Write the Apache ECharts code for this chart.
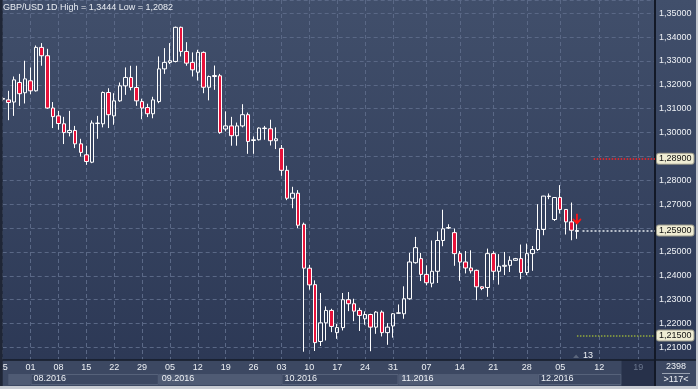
<!DOCTYPE html>
<html><head><meta charset="utf-8">
<script src="https://cdn.jsdelivr.net/npm/echarts@6/dist/echarts.min.js"></script>
<style>html,body{margin:0;padding:0;background:#2f3c58;}#c{width:698px;height:389px;}</style>
</head><body><div id="c"></div>
<script>
// ---- data (GBP/USD daily, slot 0 = 25 Jul 2016) ----
const opens  = [1.3140,1.3137,1.3128,1.3210,1.3167,1.3217,1.3175,1.3357,1.3322,1.3103,1.3070,1.3037,1.3000,1.3009,1.2953,1.2907,1.2876,1.3038,1.3037,1.3168,1.3070,1.3133,1.3196,1.3231,1.3189,1.3130,1.3105,1.3079,1.3130,1.3267,1.3294,1.3298,1.3441,1.3340,1.3294,1.3253,1.3336,1.3190,1.3235,1.3238,1.3015,1.3028,1.2987,1.3028,1.3075,1.2967,1.2970,1.3017,1.3016,1.2966,1.2934,1.2842,1.2725,1.2746,1.2616,1.2432,1.2363,1.2125,1.2203,1.2255,1.2162,1.2183,1.2300,1.2283,1.2255,1.2220,1.2238,1.2185,1.2248,1.2162,1.2190,1.2243,1.2241,1.2304,1.2455,1.2472,1.2406,1.2369,1.2419,1.2548,1.2600,1.2581,1.2493,1.2458,1.2433,1.2423,1.2354,1.2351,1.2493,1.2419,1.2440,1.2444,1.2465,1.2472,1.2414,1.2493,1.2510,1.2594,1.2732,1.2636,1.2728,1.2678,1.2626,1.2586];
const closes = [1.3143,1.3126,1.3221,1.3163,1.3225,1.3175,1.3357,1.3322,1.3103,1.3067,1.3038,1.3000,1.3009,1.2953,1.2917,1.2879,1.3040,1.3040,1.3168,1.3075,1.3133,1.3196,1.3231,1.3189,1.3133,1.3103,1.3079,1.3137,1.3267,1.3294,1.3301,1.3441,1.3340,1.3291,1.3263,1.3336,1.3190,1.3235,1.3239,1.3000,1.3028,1.2987,1.3028,1.3075,1.2963,1.2970,1.3019,1.3019,1.2966,1.2974,1.2842,1.2725,1.2746,1.2612,1.2432,1.2362,1.2120,1.2203,1.2255,1.2188,1.2183,1.2300,1.2283,1.2252,1.2234,1.2238,1.2185,1.2248,1.2162,1.2185,1.2241,1.2245,1.2304,1.2458,1.2518,1.2406,1.2371,1.2419,1.2548,1.2597,1.2602,1.2493,1.2458,1.2433,1.2421,1.2354,1.2347,1.2493,1.2419,1.2440,1.2444,1.2465,1.2472,1.2414,1.2493,1.2510,1.2594,1.2734,1.2734,1.2728,1.2678,1.2626,1.2591,1.2590];
const lows   = [1.3132,1.3052,1.3070,1.3112,1.3122,1.3161,1.3172,1.3280,1.3100,1.3019,1.3012,1.2952,1.2984,1.2935,1.2900,1.2865,1.2872,1.2974,1.3022,1.3019,1.3033,1.3129,1.3158,1.3177,1.3112,1.3056,1.3065,1.3060,1.3123,1.3246,1.3287,1.3294,1.3319,1.3280,1.3235,1.3218,1.3165,1.3135,1.3179,1.2995,1.3005,1.2945,1.2945,1.3022,1.2911,1.2911,1.2967,1.2970,1.2946,1.2931,1.2819,1.2717,1.2683,1.2600,1.2082,1.2342,1.2085,1.2106,1.2129,1.2164,1.2136,1.2171,1.2252,1.2210,1.2169,1.2195,1.2084,1.2157,1.2146,1.2111,1.2141,1.2241,1.2220,1.2300,1.2451,1.2378,1.2360,1.2352,1.2370,1.2524,1.2596,1.2442,1.2379,1.2410,1.2410,1.2298,1.2340,1.2312,1.2382,1.2363,1.2403,1.2416,1.2463,1.2386,1.2403,1.2421,1.2504,1.2570,1.2721,1.2630,1.2661,1.2573,1.2549,1.2555];
const highs  = [1.3150,1.3175,1.3235,1.3246,1.3301,1.3273,1.3365,1.3375,1.3351,1.3128,1.3091,1.3066,1.3091,1.3028,1.2974,1.2945,1.3051,1.3070,1.3172,1.3186,1.3165,1.3210,1.3273,1.3280,1.3280,1.3142,1.3121,1.3150,1.3319,1.3354,1.3375,1.3444,1.3444,1.3379,1.3336,1.3347,1.3340,1.3239,1.3281,1.3246,1.3089,1.3066,1.3042,1.3119,1.3084,1.2984,1.3022,1.3028,1.3054,1.3022,1.2948,1.2861,1.2773,1.2759,1.2623,1.2446,1.2381,1.2328,1.2272,1.2262,1.2199,1.2328,1.2332,1.2304,1.2266,1.2251,1.2241,1.2252,1.2255,1.2202,1.2244,1.2280,1.2356,1.2496,1.2563,1.2496,1.2444,1.2548,1.2586,1.2677,1.2616,1.2598,1.2504,1.2504,1.2507,1.2426,1.2356,1.2514,1.2503,1.2491,1.2500,1.2482,1.2475,1.2531,1.2535,1.2525,1.2700,1.2735,1.2745,1.2730,1.2780,1.2679,1.2707,1.2618];
const totalSlots = 118;                 // 117 visible bars + partial first
const tickSlots  = [0,5,10,15,20,25,30,35,40,45,50,55,60,65,70,76,82,88,94,100,107,114];
const tickLabels = ['25','01','08','15','22','29','05','12','19','26','03','10','17','24','31','07','14','21','28','05','12','19'];
const monthBounds = [1,5,28,50,71,96,111];
const monthLabels = ['','08.2016','09.2016','10.2016','11.2016','12.2016'];
const futureStart = 111;
const levelValues = [1.2890, 1.2590, 1.2150];
const levelStart  = [106, 104, 103];
const levelLabels = ['1,28900','1,25900','1,21500'];
const hiddenYTicks = [120,126,129];
const yMin = 1.20, yMax = 1.35555, yStep = 0.01;
const signalSlot = 103, signalPrice = 1.2637;
const titleText = 'GBP/USD 1D High = 1,3444 Low = 1,2082';
const barsInfo = ['2398','>117<'];
const timerText = '13';

// ---- build ----
const FONT = 'Liberation Sans';
const slots = Array.from({length: totalSlots}, (_, i) => String(i));
const candles = opens.map((o, i) => [o, closes[i], lows[i], highs[i]]);
const tickMap = {}; tickSlots.forEach((s, i) => tickMap[s] = tickLabels[i]);
const firstTick = tickSlots[0];
const monthMap = {}; monthBounds.slice(0, monthLabels.length).forEach((s, i) => { if (monthLabels[i]) monthMap[s] = monthLabels[i]; });
const levelColors = ['#ff2020', '#b9c0cc', '#93aa3c'];
const levelWidths = [1.5, 2, 1.5];

const chart = echarts.init(document.getElementById('c'));
const gridTop = 0, gridBottom = 17.7, axisOffset = -11.3;

const yFmt = (v) => {
  const k = Math.round(v * 100);
  if (Math.abs(v * 100 - k) > 1e-6 || hiddenYTicks.includes(k)) return '';
  return v.toFixed(5).replace('.', ',');
};

const option = {
  animation: false,
  backgroundColor: {type:'linear', x:0, y:0, x2:0, y2:1, colorStops:[{offset:0,color:'#414f6b'},{offset:1,color:'#2b3754'}]},
  title: {text: titleText, left: 3, top: 3, padding: 0, textStyle: {color:'#e9edf3', fontSize: 9, fontWeight:'normal', fontFamily: FONT}},
  grid: {left: 2.7, right: 43, top: gridTop, bottom: gridBottom},
  xAxis: [
    {type:'category', data: slots, boundaryGap:false, position:'bottom',
     axisLine:{show:false}, axisTick:{show:false}, axisLabel:{show:false},
     splitLine:{show:true, interval:(i)=> tickMap[i] !== undefined, lineStyle:{color:'#5a6886', type:[4,3], width:1}}},
    {type:'category', data: slots, boundaryGap:false, position:'bottom', offset: axisOffset, z: 10,
     axisLine:{show:false}, axisTick:{show:false}, splitLine:{show:false},
     axisLabel:{show:true, interval:(i)=> i !== firstTick && tickMap[i] !== undefined, formatter:(v, i)=> tickMap[i] || '',
       margin: 3, fontSize: 9, fontFamily: FONT, color:(v)=> (+v >= futureStart ? '#6b778e' : '#eef1f5')}},
    {type:'category', data: slots, boundaryGap:false, position:'bottom', offset: axisOffset, z: 10,
     axisLine:{show:false}, axisTick:{show:false}, splitLine:{show:false},
     axisLabel:{show:true, interval:(i)=> monthMap[i] !== undefined, formatter:(v, i)=> monthMap[i] || '',
       margin: 14, align:'left', padding:[0,0,0,3], fontSize: 9, fontFamily: FONT, color:'#eef1f5'}}
  ],
  yAxis: {type:'value', position:'right', min:yMin, max:yMax, interval:yStep,
    axisLine:{show:true, lineStyle:{color:'#131927', width:2}}, axisTick:{show:false},
    axisLabel:{margin:4, fontSize:9, fontFamily: FONT, color:'#eef1f5', formatter: yFmt},
    splitLine:{show:true, lineStyle:{color:'#5a6886', type:[4,3], width:1}}},
  series: [{
    type:'candlestick', xAxisIndex:0, yAxisIndex:0, data: candles, barWidth: 4, clip: true,
    itemStyle:{color:'rgba(0,0,0,0)', color0:'#e8123a', borderColor:'#ffffff', borderColor0:'#ffffff', borderWidth:1},
    markLine:{silent:true, symbol:['none','none'], animation:false,
      data: levelValues.map((v, k) => [
        {xAxis: levelStart[k], yAxis: v, lineStyle:{color: levelColors[k], type:'dotted', width: levelWidths[k]},
         label:{show:true, position:'end', distance:2, formatter: levelLabels[k], color:'#111', fontSize:9, fontFamily: FONT,
                backgroundColor:'#efecd3', borderColor:'#9a998a', borderWidth:1, padding:[1,2,0,2], borderRadius:2}},
        {xAxis: totalSlots - 1, yAxis: v}
      ])},
    markPoint:{silent:true, animation:false,
      data:[{coord:[signalSlot, signalPrice], symbol:'path://M4,0 L6,0 L6,7 L9,4.5 L10,6 L5,11 L0,6 L1,4.5 L4,7 Z',
             symbolSize:[9,11], itemStyle:{color:'#ff1414'}, label:{show:false}}]}
  }]
};
chart.setOption(option);

// ---- strip / frame decorations positioned from the axis scale ----
const px = (s) => chart.convertToPixel({xAxisIndex:0}, s);
const W = 698, H = 389, stripTop = 360, monthTop = 374, stripBottom = 386, axisX = 655;
const g = [];
g.push({type:'rect', z:5, shape:{x:0, y:stripTop, width:W, height:H-stripTop}, style:{fill:'#3c4862'}});
for (let i = 0; i < monthBounds.length - 1; i++) {
  const x0 = px(monthBounds[i]), x1 = px(monthBounds[i+1]);
  if (i % 2 === 0) g.push({type:'rect', z:6, shape:{x:x0, y:monthTop, width:x1-x0, height:stripBottom-monthTop-1}, style:{fill:'#4f5b74'}});
  else g.push({type:'rect', z:6, shape:{x:x0+0.5, y:monthTop+0.5, width:x1-x0-1, height:stripBottom-monthTop-2}, style:{fill:'none', stroke:'#56627a', lineWidth:1}});
}
const fx = px(futureStart);
g.push({type:'rect', z:6, shape:{x:fx, y:stripTop, width:axisX-fx, height:stripBottom-stripTop}, style:{fill:'#27314a'}});
g.push({type:'line', z:7, shape:{x1:0, y1:stripTop, x2:W, y2:stripTop}, style:{stroke:'#151b29', lineWidth:1.5}});
g.push({type:'line', z:7, shape:{x1:axisX, y1:stripTop, x2:axisX, y2:stripBottom}, style:{stroke:'#131927', lineWidth:2}});
// first (partly hidden) date label, centred on its slot
g.push({type:'text', z:9, style:{text:tickMap[firstTick], x:px(firstTick), y:368, align:'center', verticalAlign:'middle', fill:'#eef1f5', font:'9px '+FONT}});
g.push({type:'text', z:8, style:{text:barsInfo[0], x:676, y:367, align:'center', verticalAlign:'middle', fill:'#eef1f5', font:'9px '+FONT}});
g.push({type:'line', z:8, shape:{x1:662, y1:373.5, x2:690, y2:373.5}, style:{stroke:'#9aa3b3', lineWidth:1}});
g.push({type:'text', z:8, style:{text:barsInfo[1], x:676, y:380, align:'center', verticalAlign:'middle', fill:'#eef1f5', font:'9px '+FONT}});
g.push({type:'rect', z:20, shape:{x:0, y:stripBottom, width:W, height:H-stripBottom}, style:{fill:'#c8ccd3'}});
g.push({type:'rect', z:20, shape:{x:W-2, y:0, width:2, height:H}, style:{fill:'#c4c8cf'}});
g.push({type:'rect', z:20, shape:{x:0, y:0, width:2.7, height:stripBottom}, style:{fill:'#1f2636'}});
// bar timer
const tx = px(signalSlot + 2);
g.push({type:'polygon', z:8, shape:{points:[[tx-15,358],[tx-12,354.5],[tx-9,358]]}, style:{fill:'#5b667c'}});
g.push({type:'text', z:8, style:{text:timerText, x:tx-5, y:356, align:'left', verticalAlign:'middle', fill:'#eef1f5', font:'9px '+FONT}});
chart.setOption({graphic: g});
</script></body></html>
